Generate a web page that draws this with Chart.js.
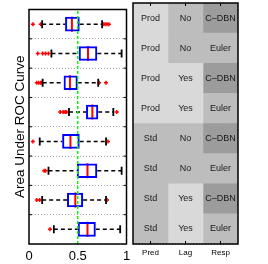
<!DOCTYPE html>
<html>
<head>
<meta charset="utf-8">
<script src="https://cdn.jsdelivr.net/npm/chart.js@4/dist/chart.umd.min.js"></script>
<style>
  html, body { margin: 0; padding: 0; background: #fff; }
  #wrap { position: relative; width: 268px; height: 264px; overflow: hidden; }
  canvas { position: absolute; top: 0; }
  #box-chart { left: 0; }
  #design-chart { left: 131px; }
</style>
</head>
<body>
<div id="wrap">
  <canvas id="box-chart" width="136" height="264"></canvas>
  <canvas id="design-chart" width="137" height="264"></canvas>
</div>
<script>
// design factors of each run (one row per box)
const predCol = ['Prod', 'Prod', 'Prod', 'Prod', 'Std', 'Std', 'Std', 'Std'];
const lagCol = ['No', 'No', 'Yes', 'Yes', 'No', 'No', 'Yes', 'Yes'];
const respCol = ['C\u2013DBN', 'Euler', 'C\u2013DBN', 'Euler', 'C\u2013DBN', 'Euler', 'C\u2013DBN', 'Euler'];
const colNames = ['Pred', 'Lag', 'Resp'];

// box plot statistics (AUC)
const whiskerLow = [0.135, 0.23, 0.14, 0.41, 0.11, 0.20, 0.135, 0.255];
const q1 = [0.37, 0.51, 0.355, 0.585, 0.34, 0.49, 0.39, 0.50];
const median = [0.44, 0.605, 0.42, 0.65, 0.425, 0.60, 0.475, 0.60];
const q3 = [0.52, 0.70, 0.50, 0.71, 0.52, 0.70, 0.555, 0.685];
const whiskerHigh = [0.75, 0.95, 0.71, 0.865, 0.79, 0.95, 0.79, 0.935];
const outliers = [
  [0.04, 0.12, 0.76, 0.78, 0.80, 0.82],
  [0.09, 0.14, 0.17, 0.20],
  [0.08, 0.10, 0.12, 0.13, 0.72, 0.79],
  [0.32, 0.35, 0.37, 0.385, 0.90],
  [0.04, 0.81],
  [0.155, 0.17],
  [0.08, 0.11, 0.80],
  [0.215]
];
const xTickLabels = ['0', '0.5', '1'];
const chanceLevel = 0.5;

const FONT = '"Liberation Sans", Arial, Helvetica, sans-serif';
Chart.defaults.font.family = FONT;
Chart.defaults.color = '#000';

const rowLabels = predCol.map((p, i) => p + ' ' + lagCol[i] + ' ' + respCol[i]);

const cellColor = {
  'Prod': '#d9d9d9',
  'Yes': '#d9d9d9',
  'Std': '#bdbdbd',
  'No': '#bdbdbd',
  'Euler': '#bdbdbd',
  'C\u2013DBN': '#9c9c9c'
};

// frame around the plot area plus the small inward ticks
const framePlugin = {
  id: 'frame',
  afterDraw(chart, args, opts) {
    const { ctx, chartArea: a } = chart;
    ctx.save();
    ctx.strokeStyle = '#000';
    ctx.lineWidth = 1;
    if (opts.rowTicks) {
      const ys = chart.scales.y;
      for (let i = 1; i < rowLabels.length; i++) {
        const y = (ys.getPixelForValue(i - 1) + ys.getPixelForValue(i)) / 2;
        ctx.beginPath();
        ctx.moveTo(a.left, y); ctx.lineTo(a.left + 3, y);
        ctx.moveTo(a.right, y); ctx.lineTo(a.right - 3, y);
        ctx.stroke();
      }
    }
    if (opts.colTicks) {
      const xs = chart.scales.x;
      colNames.forEach((n, i) => {
        const x = xs.getPixelForValue(i + 0.5);
        ctx.beginPath();
        ctx.moveTo(x, a.top); ctx.lineTo(x, a.top + 3);
        ctx.moveTo(x, a.bottom); ctx.lineTo(x, a.bottom - 3);
        ctx.stroke();
      });
    }
    ctx.lineWidth = 1.5;
    ctx.strokeRect(a.left, a.top, a.right - a.left, a.bottom - a.top);
    ctx.restore();
  }
};

const datasets = [];

// green chance line
datasets.push({
  type: 'line',
  xAxisID: 'x',
  yAxisID: 'y2',
  data: [{ x: chanceLevel, y: 0 }, { x: chanceLevel, y: 1 }],
  borderColor: '#00ff00',
  borderWidth: 1.5,
  borderDash: [3, 2],
  pointRadius: 0,
  order: -1
});

// boxes
datasets.push({
  type: 'bar',
  indexAxis: 'y',
  xAxisID: 'x',
  yAxisID: 'y',
  data: q1.map((v, i) => [v, q3[i]]),
  backgroundColor: 'rgba(0,0,0,0)',
  borderColor: '#0000ff',
  borderWidth: 2,
  borderSkipped: false,
  barPercentage: 0.5,
  categoryPercentage: 1
});

// whiskers
rowLabels.forEach((lab, i) => {
  [[whiskerLow[i], q1[i]], [q3[i], whiskerHigh[i]]].forEach(seg => {
    datasets.push({
      type: 'line',
      xAxisID: 'x',
      yAxisID: 'y',
      data: [{ x: seg[0], y: lab }, { x: seg[1], y: lab }],
      borderColor: '#000',
      borderWidth: 1.5,
      borderDash: [4, 3],
      pointRadius: 0
    });
  });
});

// whisker caps
datasets.push({
  type: 'scatter',
  xAxisID: 'x',
  yAxisID: 'y',
  data: whiskerLow.map((v, i) => ({ x: v, y: rowLabels[i] }))
    .concat(whiskerHigh.map((v, i) => ({ x: v, y: rowLabels[i] }))),
  pointStyle: 'line',
  pointRotation: 90,
  pointRadius: 4,
  pointBorderColor: '#000',
  pointBorderWidth: 1.8
});

// medians
datasets.push({
  type: 'scatter',
  xAxisID: 'x',
  yAxisID: 'y',
  data: median.map((v, i) => ({ x: v, y: rowLabels[i] })),
  pointStyle: 'line',
  pointRotation: 90,
  pointRadius: 7.5,
  pointBorderColor: '#ff0000',
  pointBorderWidth: 2
});

// outliers
datasets.push({
  type: 'scatter',
  xAxisID: 'x',
  yAxisID: 'y',
  data: outliers.flatMap((arr, i) => arr.map(v => ({ x: v, y: rowLabels[i] }))),
  pointStyle: 'cross',
  pointRadius: 2,
  pointBorderColor: '#ff0000',
  pointBorderWidth: 1.5
});

new Chart(document.getElementById('box-chart'), {
  type: 'bar',
  data: { labels: rowLabels, datasets: datasets },
  plugins: [framePlugin],
  options: {
    responsive: false,
    animation: false,
    layout: { padding: { top: 3, right: 5, left: 0, bottom: 0 } },
    plugins: {
      legend: { display: false },
      tooltip: { enabled: false },
      frame: { rowTicks: true }
    },
    scales: {
      x: {
        type: 'linear',
        min: 0,
        max: 1,
        offset: false,
        grid: { display: false, offset: false, drawTicks: false },
        border: { display: false },
        ticks: {
          stepSize: 0.5,
          padding: 5,
          font: { size: 13 },
          maxRotation: 0,
          callback: (v, i) => xTickLabels[i]
        },
        afterFit: s => { s.height = 20; s.paddingLeft = 0; s.paddingRight = 0; }
      },
      y: {
        type: 'category',
        offset: true,
        grid: { offset: true, color: '#aaa', lineWidth: 1, drawTicks: false },
        border: { display: false, dash: [1, 2] },
        ticks: { display: false },
        title: {
          display: true,
          text: 'Area Under ROC Curve',
          font: { size: 13.5 },
          padding: { top: 12, bottom: 0 }
        },
        afterFit: s => { s.width = 29; }
      },
      y2: { type: 'linear', min: 0, max: 1, display: false }
    }
  }
});

// design table on the right
const cellText = {
  id: 'cellText',
  afterDatasetsDraw(chart) {
    const { ctx } = chart;
    const cols = [predCol, lagCol, respCol];
    ctx.save();
    ctx.font = '9px ' + FONT;
    ctx.fillStyle = '#1a1a1a';
    ctx.textAlign = 'center';
    ctx.textBaseline = 'middle';
    chart.data.datasets.forEach((ds, d) => {
      chart.getDatasetMeta(d).data.forEach((el, i) => {
        ctx.fillText(cols[d][i], (el.x + el.base) / 2, el.y);
      });
    });
    ctx.restore();
  }
};

new Chart(document.getElementById('design-chart'), {
  type: 'bar',
  data: {
    labels: rowLabels,
    datasets: [
      { label: 'Pred', data: predCol.map(() => [0, 1]), backgroundColor: predCol.map(c => cellColor[c]) },
      { label: 'Lag', data: lagCol.map(() => [1, 2]), backgroundColor: lagCol.map(c => cellColor[c]) },
      { label: 'Resp', data: respCol.map(() => [2, 3]), backgroundColor: respCol.map(c => cellColor[c]) }
    ]
  },
  plugins: [cellText, framePlugin],
  options: {
    indexAxis: 'y',
    responsive: false,
    animation: false,
    layout: { padding: { top: 3, right: 30, left: 2, bottom: 0 } },
    datasets: { bar: { grouped: false, barPercentage: 1, categoryPercentage: 1, borderWidth: 0 } },
    plugins: {
      legend: { display: false },
      tooltip: { enabled: false },
      frame: { colTicks: true }
    },
    scales: {
      x: {
        type: 'linear',
        min: 0,
        max: 3,
        offset: false,
        grid: { display: false, drawTicks: false },
        border: { display: false },
        afterBuildTicks: s => { s.ticks = colNames.map((n, i) => ({ value: i + 0.5 })); },
        ticks: {
          padding: 4,
          font: { size: 8 },
          maxRotation: 0,
          callback: (v, i) => colNames[i]
        },
        afterFit: s => { s.height = 20; s.paddingLeft = 0; s.paddingRight = 0; }
      },
      y: {
        type: 'category',
        offset: true,
        z: 1,
        grid: { offset: true, color: '#888', lineWidth: 1, drawTicks: false },
        border: { display: false, dash: [1, 2] },
        ticks: { display: false },
        afterFit: s => { s.width = 0; }
      }
    }
  }
});
</script>
</body>
</html>
